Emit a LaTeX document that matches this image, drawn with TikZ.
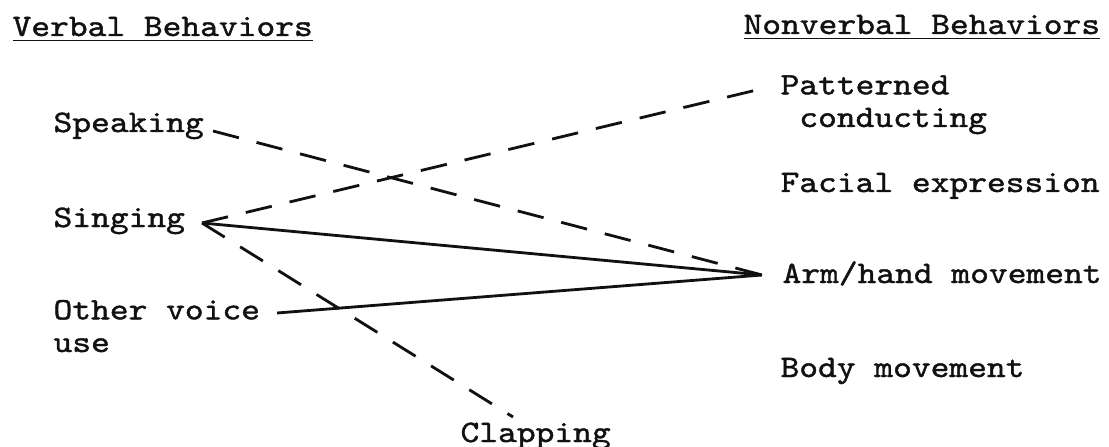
\documentclass[tikz,border=0pt]{standalone}
\usepackage{fontspec}
\setmonofont{lmmono10-regular.otf}[FakeStretch=1.145,FakeBold=1.3]
\definecolor{behink}{HTML}{111111}

\begin{document}
\begin{tikzpicture}[
  x=.0125cm,y=-.0125cm,
  font=\ttfamily\fontsize{11.1}{11.6}\selectfont,
  item/.style={anchor=base west,inner sep=0pt,align=left,text=behink},
  head/.style={item},
  link/.style={draw=behink,line width=1pt},
  dashedlink/.style={link,dash pattern=on 9.5pt off 6.5pt}
]
  \path[use as bounding box] (0,0) rectangle (1109,447);
  % column headings
  \node[head] (verbal) at (12,36) {\underline{Verbal Behaviors}};
  \node[head] (nonverbal) at (743,34) {\underline{Nonverbal Behaviors}};
  % verbal behaviours, left column (two-line nodes sit on their last line)
  \node[item] (speak) at (53,132) {Speaking};
  \node[item] (sing) at (53,227) {Singing};
  \node[item] (other) at (53,352) {Other voice\\use};
  \node[item] (clap) at (460,442) {Clapping};
  % nonverbal behaviours, right column
  \node[item] (pattern) at (780,127) {Patterned\\\ conducting};
  \node[item] (facial) at (780,192) {Facial expression};
  \node[item] (arm) at (782,283) {Arm/hand movement};
  \node[item] (body) at (780,377) {Body movement};
  % line ends next to the labels
  \coordinate (speakend) at (213,131);
  \coordinate (singend) at (202,223);
  \coordinate (otherend) at (277,313);
  \coordinate (armend) at (762,275);
  \coordinate (patternend) at (765,88);
  \coordinate (clapend) at (513,417);
  \draw[dashedlink] (speakend) -- (armend);
  \draw[dashedlink] (singend) -- (patternend);
  \draw[link] (singend) -- (armend);
  \draw[dashedlink] (singend) -- (clapend);
  \draw[link] (otherend) -- (armend);
\end{tikzpicture}
\end{document}
